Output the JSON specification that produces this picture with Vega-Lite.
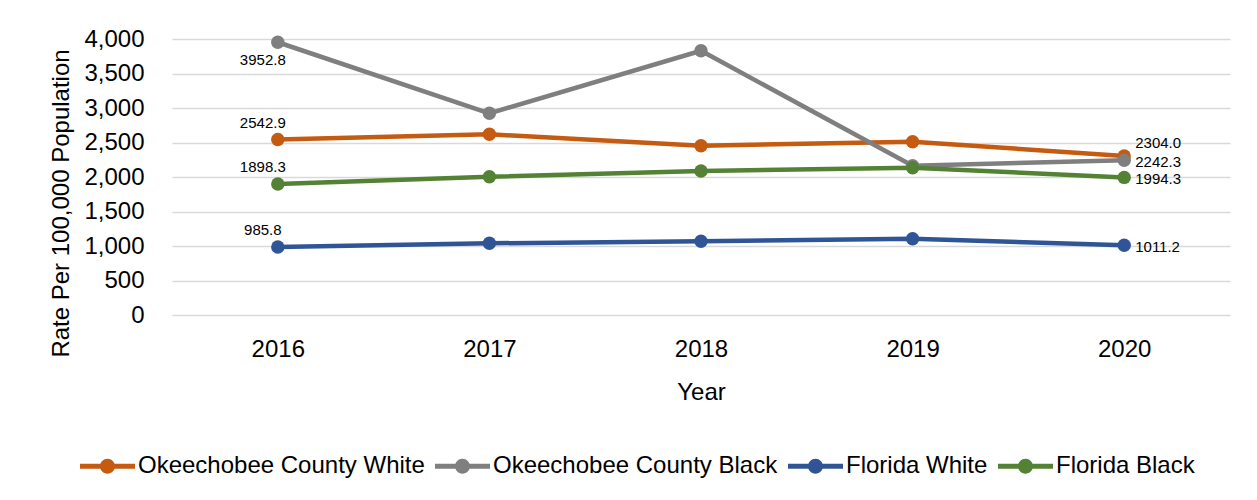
{
  "$schema": "https://vega.github.io/schema/vega-lite/v6.json",
  "autosize": "none",
  "width": 1058,
  "height": 276,
  "padding": {"left": 172, "top": 39, "right": 27, "bottom": 185},
  "background": "white",
  "config": {
    "font": "Liberation Sans",
    "view": {"stroke": null},
    "axis": {"labelColor": "#000", "titleColor": "#000", "titleFontWeight": "normal", "domain": false, "ticks": false}
  },
  "data": {
    "values": [
      {"Year": "2016", "series": "Okeechobee County White", "value": 2542.9},
      {"Year": "2017", "series": "Okeechobee County White", "value": 2619},
      {"Year": "2018", "series": "Okeechobee County White", "value": 2454},
      {"Year": "2019", "series": "Okeechobee County White", "value": 2512},
      {"Year": "2020", "series": "Okeechobee County White", "value": 2304.0},
      {"Year": "2016", "series": "Okeechobee County Black", "value": 3952.8},
      {"Year": "2017", "series": "Okeechobee County Black", "value": 2923},
      {"Year": "2018", "series": "Okeechobee County Black", "value": 3830},
      {"Year": "2019", "series": "Okeechobee County Black", "value": 2164},
      {"Year": "2020", "series": "Okeechobee County Black", "value": 2242.3},
      {"Year": "2016", "series": "Florida White", "value": 985.8},
      {"Year": "2017", "series": "Florida White", "value": 1039},
      {"Year": "2018", "series": "Florida White", "value": 1068},
      {"Year": "2019", "series": "Florida White", "value": 1106},
      {"Year": "2020", "series": "Florida White", "value": 1011.2},
      {"Year": "2016", "series": "Florida Black", "value": 1898.3},
      {"Year": "2017", "series": "Florida Black", "value": 2004},
      {"Year": "2018", "series": "Florida Black", "value": 2087},
      {"Year": "2019", "series": "Florida Black", "value": 2135},
      {"Year": "2020", "series": "Florida Black", "value": 1994.3}
    ]
  },
  "encoding": {
    "x": {
      "field": "Year", "type": "ordinal",
      "scale": {"type": "point", "padding": 0.5},
      "axis": {"labelAngle": 0, "labelFontSize": 24, "labelPadding": 22, "title": "Year", "titleFontSize": 24, "titlePadding": 19, "grid": false}
    },
    "y": {
      "field": "value", "type": "quantitative",
      "scale": {"domain": [0, 4000], "nice": false},
      "axis": {"values": [0, 500, 1000, 1500, 2000, 2500, 3000, 3500, 4000], "format": ",.0f", "labelFontSize": 24, "labelPadding": 28, "title": "Rate Per 100,000 Population", "titleFontSize": 24, "titlePadding": 10, "titleY": 164, "grid": true, "gridColor": "#D9D9D9", "gridWidth": 1.5}
    },
    "color": {
      "field": "series", "type": "nominal",
      "scale": {"domain": ["Okeechobee County White", "Okeechobee County Black", "Florida White", "Florida Black"], "range": ["#C55A11", "#7F7F7F", "#2F5597", "#548235"]},
      "legend": {
        "title": null, "orient": "none", "direction": "horizontal", "columns": 4,
        "legendX": -92, "legendY": 399.5,
        "labelFontSize": 24, "labelColor": "#000", "labelOffset": 3, "columnPadding": 10, "labelLimit": 400,
        "symbolType": "M-1,-0.09H1V0.09H-1Z M-0.27,0A0.27,0.27 0 1,1 0.27,0A0.27,0.27 0 1,1 -0.27,0Z",
        "symbolSize": 3025, "symbolStrokeWidth": 0,
        "encode": {"symbols": {"update": {"fill": {"scale": "color", "field": "value"}, "stroke": {"value": "transparent"}}}}
      }
    }
  },
  "layer": [
    {"mark": {"type": "line", "strokeWidth": 4.5}},
    {"mark": {"type": "point", "filled": true, "size": 180, "opacity": 1}},
    {
      "transform": [{"filter": "datum.Year == '2016' && datum.series != 'Okeechobee County Black'"}],
      "mark": {"type": "text", "fontSize": 15, "dx": -15, "dy": -17, "color": "#000"},
      "encoding": {"text": {"field": "value", "type": "quantitative", "format": ".1f"}, "color": {"value": "#000"}}
    },
    {
      "transform": [{"filter": "datum.Year == '2016' && datum.series == 'Okeechobee County Black'"}],
      "mark": {"type": "text", "fontSize": 15, "dx": -15, "dy": 18, "color": "#000"},
      "encoding": {"text": {"field": "value", "type": "quantitative", "format": ".1f"}, "color": {"value": "#000"}}
    },
    {
      "transform": [{"filter": "datum.Year == '2020' && datum.series == 'Okeechobee County White'"}],
      "mark": {"type": "text", "fontSize": 15, "align": "left", "dx": 11, "dy": -13, "color": "#000"},
      "encoding": {"text": {"field": "value", "type": "quantitative", "format": ".1f"}, "color": {"value": "#000"}}
    },
    {
      "transform": [{"filter": "datum.Year == '2020' && datum.series != 'Okeechobee County White'"}],
      "mark": {"type": "text", "fontSize": 15, "align": "left", "dx": 11, "dy": 2, "color": "#000"},
      "encoding": {"text": {"field": "value", "type": "quantitative", "format": ".1f"}, "color": {"value": "#000"}}
    }
  ]
}
